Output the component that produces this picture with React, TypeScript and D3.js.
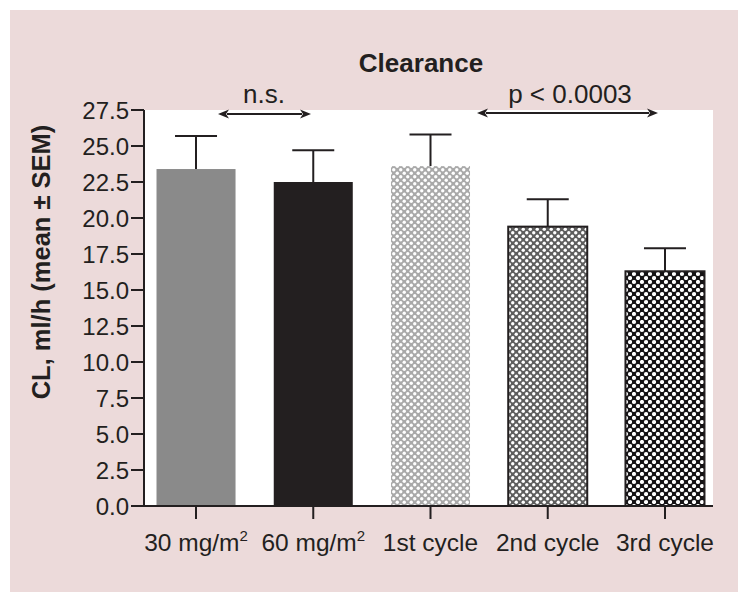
import React from "react";
import * as d3 from "d3";

const categories = ["30 mg/m2", "60 mg/m2", "1st cycle", "2nd cycle", "3rd cycle"];
const means = [23.4, 22.5, 23.6, 19.4, 16.3];
const sems = [2.3, 2.2, 2.2, 1.9, 1.6];
const yTicks = [0, 2.5, 5, 7.5, 10, 12.5, 15, 17.5, 20, 22.5, 25, 27.5];

const W = 748;
const H = 603;
const plotLeft = 144;
const plotRight = 713;
const plotTop = 110;
const plotBottom = 506;
const ink = "#231f20";
const font = "'Liberation Sans', Arial, Helvetica, sans-serif";

const fills = ["#8a8a8a", "#231f20", "url(#dotsLight)", "url(#dotsMid)", "url(#dotsDark)"];
const strokes = ["none", "none", "none", ink, ink];

export default function App() {
  const x = d3
    .scaleBand<string>()
    .domain(categories)
    .range([137.4, 723.6])
    .paddingInner(0.326)
    .paddingOuter(0.163);
  const y = d3.scaleLinear().domain([0, 27.5]).range([plotBottom, plotTop]);
  const bw = x.bandwidth();
  const capW = 42;

  const arrow = (x1: number, x2: number, yy: number) => {
    const ah = 11;
    const aw = 4.5;
    return (
      <g>
        <line x1={x1 + ah - 2} x2={x2 - ah + 2} y1={yy} y2={yy} stroke={ink} strokeWidth={2} />
        <path d={`M${x1},${yy} L${x1 + ah},${yy - aw} L${x1 + ah - 3},${yy} L${x1 + ah},${yy + aw} Z`} fill={ink} />
        <path d={`M${x2},${yy} L${x2 - ah},${yy - aw} L${x2 - ah + 3},${yy} L${x2 - ah},${yy + aw} Z`} fill={ink} />
      </g>
    );
  };

  const renderLabel = (c: string) => {
    if (c.endsWith("m2")) {
      const base = c.slice(0, -1);
      return (
        <>
          {base}
          <tspan fontSize={15} dy={-10}>2</tspan>
        </>
      );
    }
    return c;
  };

  return (
    <svg width={W} height={H} style={{ display: "block", position: "absolute", left: 0, top: 0 }}>
      <defs>
        <pattern id="dotsLight" patternUnits="userSpaceOnUse" width={7} height={7}>
          <rect width={7} height={7} fill="#a9a9a9" />
          <circle cx={1.75} cy={1.75} r={1.7} fill="#fff" />
          <circle cx={5.25} cy={5.25} r={1.7} fill="#fff" />
        </pattern>
        <pattern id="dotsMid" patternUnits="userSpaceOnUse" width={7} height={7}>
          <rect width={7} height={7} fill="#5e5e5e" />
          <circle cx={1.75} cy={1.75} r={1.7} fill="#fff" />
          <circle cx={5.25} cy={5.25} r={1.7} fill="#fff" />
        </pattern>
        <pattern id="dotsDark" patternUnits="userSpaceOnUse" width={8} height={8}>
          <rect width={8} height={8} fill="#141214" />
          <circle cx={2} cy={2} r={2.1} fill="#fff" />
          <circle cx={6} cy={6} r={2.1} fill="#fff" />
        </pattern>
      </defs>
      <rect x={0} y={0} width={W} height={H} fill="#ffffff" />
      <rect x={10} y={10} width={728} height={582} fill="#ecdada" />
      <rect x={plotLeft} y={plotTop} width={plotRight - plotLeft} height={plotBottom - plotTop} fill="#ffffff" />

      <text x={421} y={72} textAnchor="middle" fontFamily={font} fontWeight="bold" fontSize={26} fill={ink}>
        Clearance
      </text>

      {categories.map((c, i) => {
        const x0 = x(c)!;
        const cx = x0 + bw / 2;
        const top = y(means[i]);
        const capY = y(means[i] + sems[i]);
        return (
          <g key={c}>
            <line x1={cx} x2={cx} y1={top} y2={capY} stroke={ink} strokeWidth={2} />
            <line x1={cx - capW / 2} x2={cx + capW / 2} y1={capY} y2={capY} stroke={ink} strokeWidth={2} />
            <rect
              x={x0}
              y={top}
              width={bw}
              height={plotBottom - top}
              fill={fills[i]}
              stroke={strokes[i]}
              strokeWidth={strokes[i] === "none" ? 0 : 2}
            />
          </g>
        );
      })}

      {/* axes */}
      <line x1={plotLeft} x2={plotLeft} y1={plotTop} y2={plotBottom} stroke={ink} strokeWidth={2} />
      <line x1={plotLeft - 1} x2={plotRight} y1={plotBottom} y2={plotBottom} stroke={ink} strokeWidth={2} />
      {yTicks.map((t) => (
        <g key={t}>
          <line x1={plotLeft - 13} x2={plotLeft} y1={y(t)} y2={y(t)} stroke={ink} strokeWidth={2} />
          <text
            x={plotLeft - 15}
            y={y(t)}
            dy="0.36em"
            textAnchor="end"
            fontFamily={font}
            fontSize={24}
            fill={ink}
          >
            {t.toFixed(1)}
          </text>
        </g>
      ))}
      {categories.map((c) => {
        const cx = x(c)! + bw / 2;
        return (
          <g key={c}>
            <line x1={cx} x2={cx} y1={plotBottom} y2={plotBottom + 13} stroke={ink} strokeWidth={2} />
            <text x={cx} y={551} textAnchor="middle" fontFamily={font} fontSize={24.5} fill={ink}>
              {renderLabel(c)}
            </text>
          </g>
        );
      })}

      <text
        transform={`translate(50, 262) rotate(-90)`}
        textAnchor="middle"
        fontFamily={font}
        fontWeight="bold"
        fontSize={25.5}
        fill={ink}
      >
        CL, ml/h (mean ± SEM)
      </text>

      {arrow(218, 311, 114)}
      <text x={264} y={103} textAnchor="middle" fontFamily={font} fontSize={26} fill={ink}>
        n.s.
      </text>
      {arrow(477, 658, 113)}
      <text x={570} y={103} textAnchor="middle" fontFamily={font} fontSize={26} fill={ink}>
        p &lt; 0.0003
      </text>
    </svg>
  );
}
